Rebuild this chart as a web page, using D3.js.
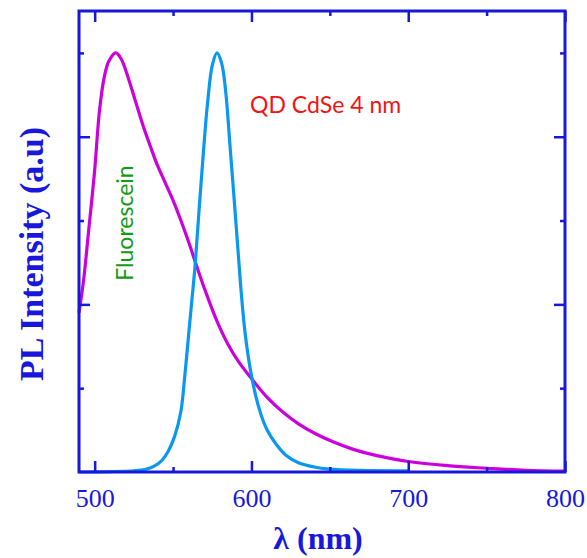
<!DOCTYPE html>
<html>
<head>
<meta charset="utf-8">
<script src="https://cdn.jsdelivr.net/npm/d3@7"></script>
<style>
    html, body { margin: 0; padding: 0; background: #fff; }
</style>
</head>
<body>
<div id="chart"></div>
<script>
// Wavelength (nm) / normalised PL intensity
const fluoresceinNm = [490, 493, 496, 500, 503, 506, 509, 513.5, 517, 521, 526, 531, 536, 540, 545, 550, 555, 560, 565, 570, 578, 585, 592, 600, 610, 620, 630, 640, 652, 665, 680, 700, 725, 750, 775, 800];
const fluoresceinPL = [0.38, 0.46, 0.57, 0.72, 0.86, 0.94, 0.98, 1.0, 0.985, 0.945, 0.885, 0.825, 0.772, 0.732, 0.69, 0.648, 0.6, 0.548, 0.492, 0.438, 0.36, 0.305, 0.262, 0.223, 0.178, 0.143, 0.115, 0.093, 0.072, 0.054, 0.039, 0.025, 0.015, 0.009, 0.004, 0.002];

const qdNm = [490, 510, 525, 532, 538, 543, 547, 551, 555, 557.5, 560, 562, 564, 566.5, 569.5, 572, 575, 578, 581, 583.5, 586.5, 590, 593, 596, 600, 605, 610, 616, 622, 630, 640, 650, 670, 700];
const qdPL = [0, 0.001, 0.003, 0.006, 0.014, 0.028, 0.05, 0.085, 0.145, 0.23, 0.33, 0.41, 0.49, 0.62, 0.77, 0.88, 0.97, 1.0, 0.975, 0.91, 0.77, 0.6, 0.45, 0.33, 0.23, 0.15, 0.1, 0.065, 0.04, 0.022, 0.012, 0.007, 0.004, 0.003];

const xMajorTicks = [500, 600, 700, 800];
const xMinorTicks = [550, 650, 750];
const yMajorTicks = [0.4, 0.8];
const yMinorTicks = [0.2, 0.6, 1.0];
const xDomain = [490, 800];
const yDomain = [0, 1.1];

const AXIS_BLUE = '#1818dc';

function drawChart(containerEl) {
    const margin = { top: 11, right: 22, bottom: 86, left: 79 },
        width = 587 - margin.left - margin.right,
        height = 558 - margin.top - margin.bottom;

    const svg = d3.select(containerEl)
        .append('svg')
        .attr('width', 587)
        .attr('height', 558);

    const g = svg.append('g')
        .attr('transform', `translate(${margin.left}, ${margin.top})`);

    const x = d3.scaleLinear().domain(xDomain).range([0, width]),
        y = d3.scaleLinear().domain(yDomain).range([height, 0]);

    // Curves
    const series = [
        { nm: fluoresceinNm, pl: fluoresceinPL, color: '#cc00dd' },
        { nm: qdNm, pl: qdPL, color: '#0a98ee' }
    ];
    const line = d3.line()
        .x(d => x(d[0]))
        .y(d => y(d[1]))
        .curve(d3.curveCatmullRom.alpha(0.5));

    series.forEach(s => {
        g.append('path')
            .datum(s.nm.map((v, i) => [v, s.pl[i]]))
            .attr('fill', 'none')
            .attr('stroke', s.color)
            .attr('stroke-width', 3.2)
            .attr('stroke-linejoin', 'round')
            .attr('d', line);
    });

    // Axes: ticks point inward on all four sides
    const styleAxis = sel => {
        sel.select('.domain').remove();
        sel.selectAll('.tick line')
            .attr('stroke', AXIS_BLUE)
            .attr('stroke-width', 2.5);
    };

    const addAxis = (axis, transform) => {
        g.append('g')
            .attr('transform', transform)
            .call(axis)
            .call(styleAxis);
    };

    // bottom with labels
    g.append('g')
        .attr('transform', `translate(0, ${height})`)
        .call(d3.axisBottom(x).tickValues(xMajorTicks).tickSize(-11).tickPadding(17).tickFormat(d3.format('d')))
        .call(styleAxis)
        .selectAll('text')
        .attr('fill', AXIS_BLUE)
        .style('font-family', '"Liberation Serif", "Times New Roman", serif')
        .style('font-size', '26px');

    addAxis(d3.axisBottom(x).tickValues(xMinorTicks).tickSize(-5).tickFormat(''), `translate(0, ${height})`);
    addAxis(d3.axisTop(x).tickValues(xMajorTicks).tickSize(-11).tickFormat(''), 'translate(0, 0)');
    addAxis(d3.axisTop(x).tickValues(xMinorTicks).tickSize(-5).tickFormat(''), 'translate(0, 0)');
    addAxis(d3.axisLeft(y).tickValues(yMajorTicks).tickSize(-11).tickFormat(''), 'translate(0, 0)');
    addAxis(d3.axisLeft(y).tickValues(yMinorTicks).tickSize(-5).tickFormat(''), 'translate(0, 0)');
    addAxis(d3.axisRight(y).tickValues(yMajorTicks).tickSize(-11).tickFormat(''), `translate(${width}, 0)`);
    addAxis(d3.axisRight(y).tickValues(yMinorTicks).tickSize(-5).tickFormat(''), `translate(${width}, 0)`);

    // Frame
    g.append('rect')
        .attr('width', width)
        .attr('height', height)
        .attr('fill', 'none')
        .attr('stroke', AXIS_BLUE)
        .attr('stroke-width', 3);

    // Axis titles
    svg.append('text')
        .attr('x', 318)
        .attr('y', 549)
        .attr('text-anchor', 'middle')
        .attr('fill', AXIS_BLUE)
        .style('font-family', '"Liberation Serif", "Times New Roman", serif')
        .style('font-weight', 'bold')
        .style('font-size', '32px')
        .text('λ (nm)');

    svg.append('text')
        .attr('transform', 'translate(43, 254) rotate(-90)')
        .attr('text-anchor', 'middle')
        .attr('fill', AXIS_BLUE)
        .style('font-family', '"Liberation Serif", "Times New Roman", serif')
        .style('font-weight', 'bold')
        .style('font-size', '34px')
        .text('PL Intensity (a.u)');

    // Annotations
    svg.append('text')
        .attr('x', 250)
        .attr('y', 113)
        .attr('fill', '#f01414')
        .style('font-family', 'Lato, "Open Sans", sans-serif')
        .style('font-size', '23px')
        .text('QD CdSe 4 nm');

    svg.append('text')
        .attr('transform', 'translate(133, 223) rotate(-90)')
        .attr('text-anchor', 'middle')
        .attr('fill', '#149a14')
        .style('font-family', 'Lato, "Open Sans", sans-serif')
        .style('font-size', '23px')
        .text('Fluorescein');
}

drawChart(document.getElementById('chart'));
</script>
</body>
</html>
